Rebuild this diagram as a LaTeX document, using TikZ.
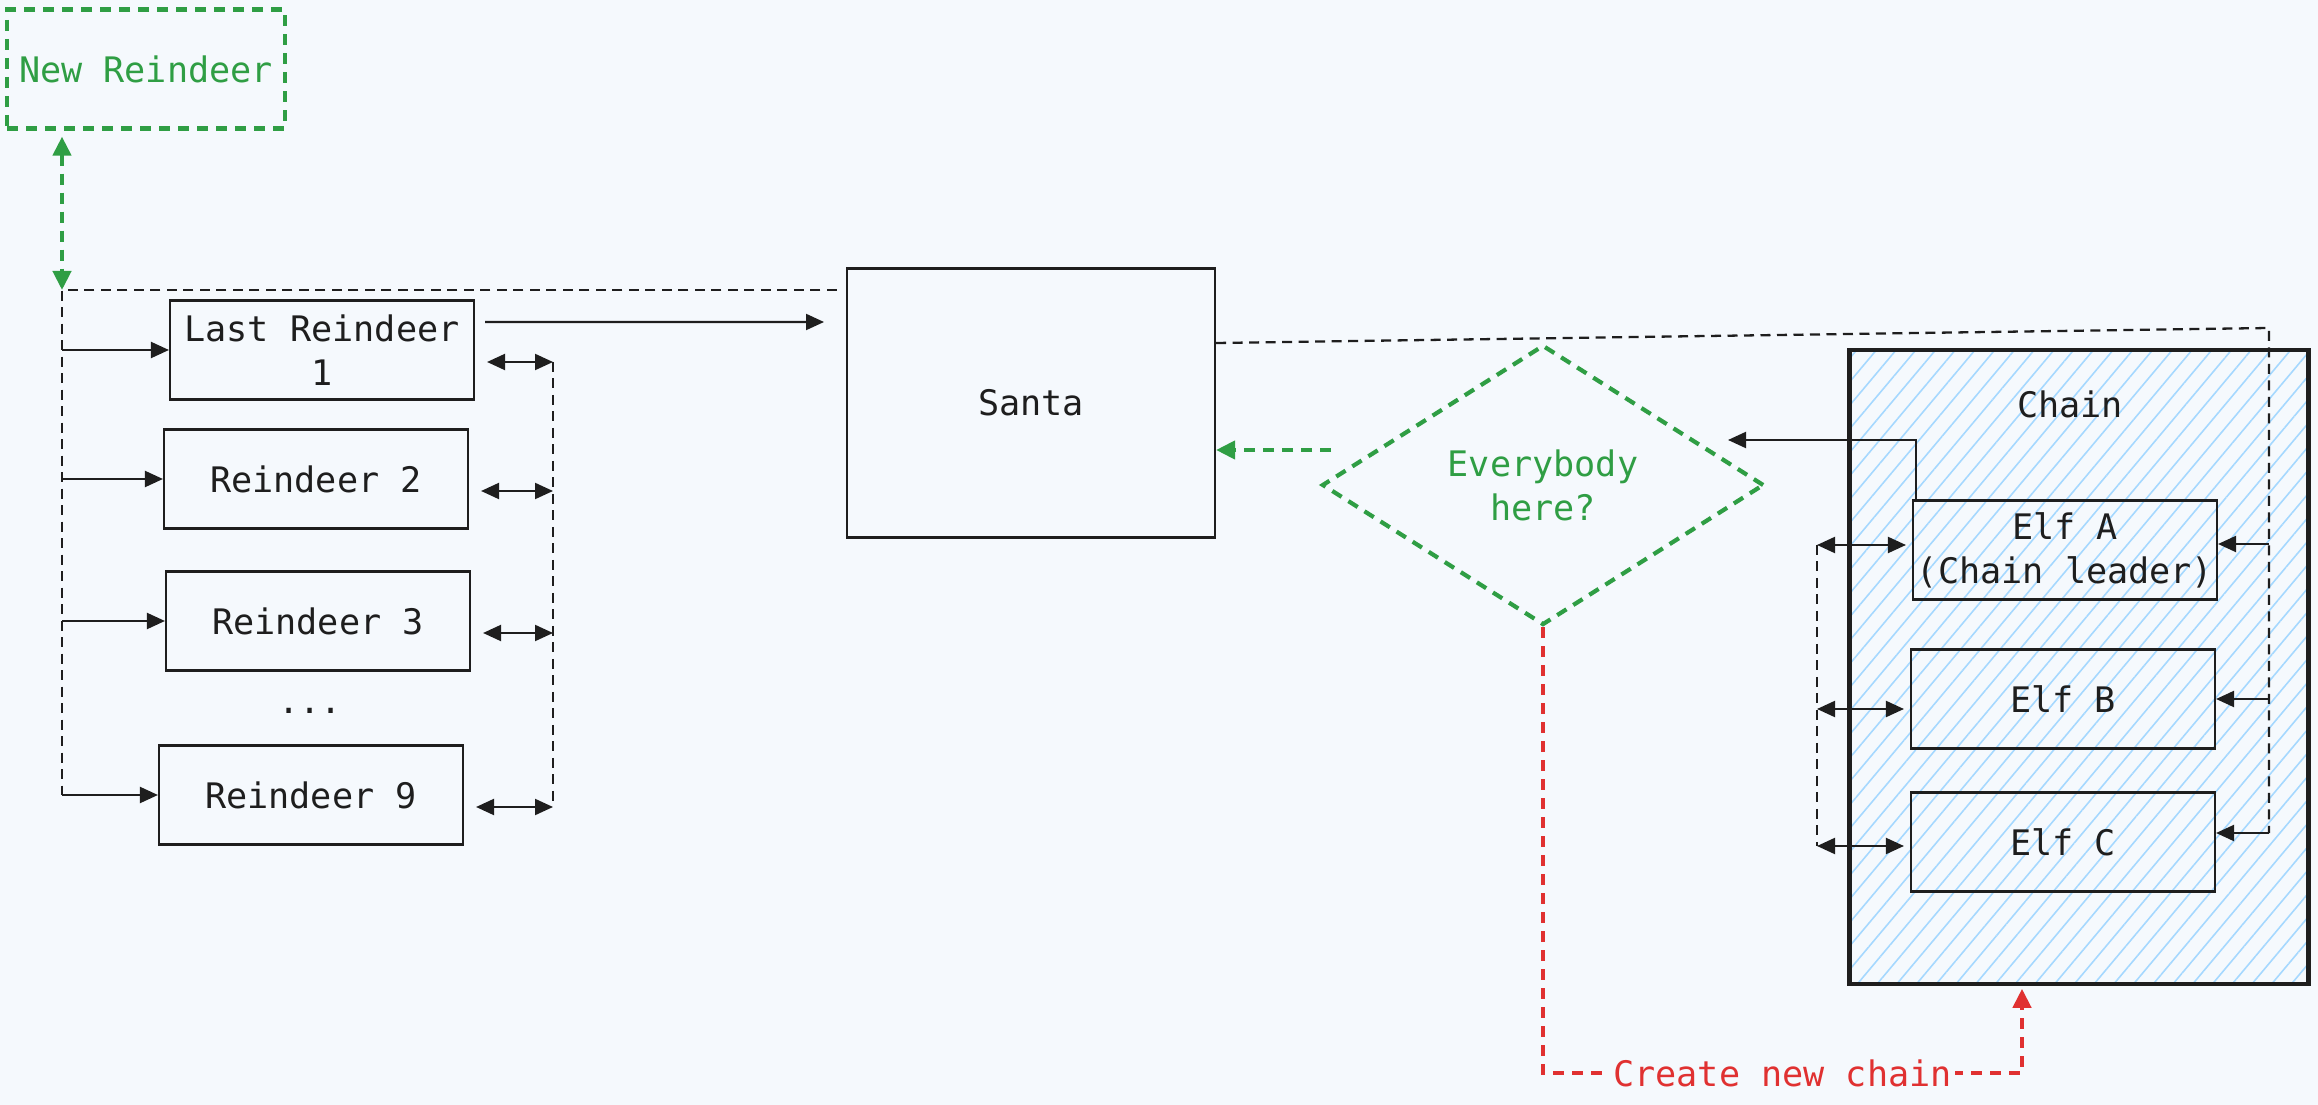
\documentclass[tikz,border=0pt]{standalone}
\usepackage{fontspec}
\setmonofont{DejaVu Sans Mono}
\usetikzlibrary{arrows.meta,calc,patterns.meta,shapes.geometric}
\definecolor{bgcol}{HTML}{F5F9FD}
\definecolor{inkcol}{HTML}{1E1E1E}
\definecolor{okgreen}{HTML}{2F9E44}
\definecolor{newred}{HTML}{E03131}
\definecolor{hatchblue}{HTML}{A5D8FF}
\tikzset{
	box/.style={draw=inkcol, line width=0.6pt, inner sep=0pt, minimum width=30.4mm, minimum height=9.9mm, align=center},
	gdash/.style={draw=okgreen, line width=1.2pt, dash pattern=on 1.1mm off 0.8mm},
	gbox/.style={gdash, text=okgreen, minimum width=27.4mm, minimum height=11.9mm},
	check/.style={diamond, gdash, text=okgreen, aspect=1.5, inner sep=0pt, minimum width=44.2mm, minimum height=28mm, align=center},
	chainbox/.style={draw=inkcol, line width=1.4pt, minimum width=45.9mm, minimum height=63.4mm,
		pattern={Lines[angle=50,distance=4.3pt,line width=0.45pt]}, pattern color=hatchblue},
	arr/.style={->, draw=inkcol, line width=0.6pt},
	dbl/.style={<->, draw=inkcol, line width=0.6pt},
	bus/.style={draw=inkcol, line width=0.65pt, dash pattern=on 1mm off 0.65mm},
	garr/.style={gdash, -{Triangle[length=1.9mm,width=1.8mm]}},
	gdbl/.style={gdash, {Triangle[length=1.9mm,width=1.8mm]}-{Triangle[length=1.9mm,width=1.8mm]}},
	rarr/.style={draw=newred, line width=1.2pt, dash pattern=on 1.1mm off 0.8mm, -{Triangle[length=1.9mm,width=1.8mm]}},
	redlbl/.style={fill=bgcol, text=newred, inner sep=1pt}
}

\begin{document}
\begin{tikzpicture}[x=0.1mm, y=-0.1mm, >={Triangle[length=1.8mm,width=1.6mm]},
		every node/.style={font=\ttfamily\fontsize{10}{12.5}\selectfont, text=inkcol}]
			%%%%% START %%%%%
			\path[use as bounding box, fill=bgcol] (0,0) rectangle (2318,1105);
			
			% reindeer
			\node[gbox] (newrd) at (146,69) {New Reindeer};
			\node[box] (last) at (322,350) {Last Reindeer\\1};
			\node[box] (rd2) at (316,479) {Reindeer 2};
			\node[box] (rd3) at (318,621) {Reindeer 3};
			\node (dots) at (310,711) {...};
			\node[box] (rd9) at (311,795) {Reindeer 9};
			
			\node[box, minimum width=36.8mm, minimum height=26.9mm] (santa) at (1031,403) {Santa};
			\node[check] (check) at (1543,485) {Everybody\\here?};
			
			% elves
			\node[chainbox] (chain) at (2079,667) {};
			\node (chainlbl) at (2070,404) {Chain};
			\node[box] (elfa) at (2065,550) {Elf A\\(Chain leader)};
			\node[box] (elfb) at (2063,699) {Elf B};
			\node[box] (elfc) at (2063,842) {Elf C};
			
			\coordinate (lbus) at (62,290);
			\coordinate (rbus) at (553,364);
			\coordinate (ebus) at (1817,545);
			\coordinate (fbus) at (2269,328);
			\coordinate (tosanta) at (824,322);
			\coordinate (askcheck) at (1728,440);
			\coordinate (okstart) at (1331,450);
			\coordinate (newbend) at (1546,1073);
			\coordinate (newtip) at ([xshift=-5.7mm,yshift=-0.4mm]chain.south);
			
			% reindeer wiring
			\draw[bus] ([xshift=-0.9mm]santa.north west |- lbus) -- (lbus) -- (lbus |- rd9.west);
			\draw[gdbl] ([yshift=-0.6mm]newrd.south -| lbus) -- (lbus);
			\foreach \rd in {last,rd2,rd3,rd9}
				\draw[arr] (lbus |- \rd.west) -- (\rd.west);
			
			\draw[bus] ([yshift=-1.2mm]last.east -| rbus) -- ([yshift=-1.2mm]rd9.east -| rbus);
			\foreach \rd in {last,rd2,rd3,rd9}
				\draw[dbl] ([xshift=1.2mm,yshift=-1.2mm]\rd.east) -- ([yshift=-1.2mm]\rd.east -| rbus);
			
			\draw[arr] ([xshift=1mm,yshift=2.8mm]last.east) -- (tosanta);
			
			% elf wiring
			\draw[bus] ([yshift=6mm]santa.east) -- (fbus) -- ([yshift=0.9mm]elfc.east -| fbus);
			\foreach \elf/\dy in {elfa/0.6,elfb/0,elfc/0.9}
				\draw[arr] ([yshift=\dy mm]\elf.east -| fbus) -- ([yshift=\dy mm]\elf.east);
			
			\draw[bus] ([yshift=0.5mm]elfa.west -| ebus) -- ([yshift=-0.4mm]elfc.west -| ebus);
			\foreach \elf/\dy in {elfa/0.5,elfb/-1,elfc/-0.4}
				\draw[dbl] ([yshift=\dy mm]\elf.west -| ebus) -- ([xshift=-0.6mm,yshift=\dy mm]\elf.west);
			
			\draw[arr] ([xshift=0.4mm]elfa.north west) |- (askcheck);
			
			% decisions
			\draw[garr] (okstart) -- (okstart -| santa.east);
			\draw[rarr] (check.south) -- (check.south |- newbend)
				-- node[redlbl] (newlbl) {Create new chain} (newtip |- newbend) -- (newtip);
			
			%%%%% END %%%%%
\end{tikzpicture}
\end{document}
